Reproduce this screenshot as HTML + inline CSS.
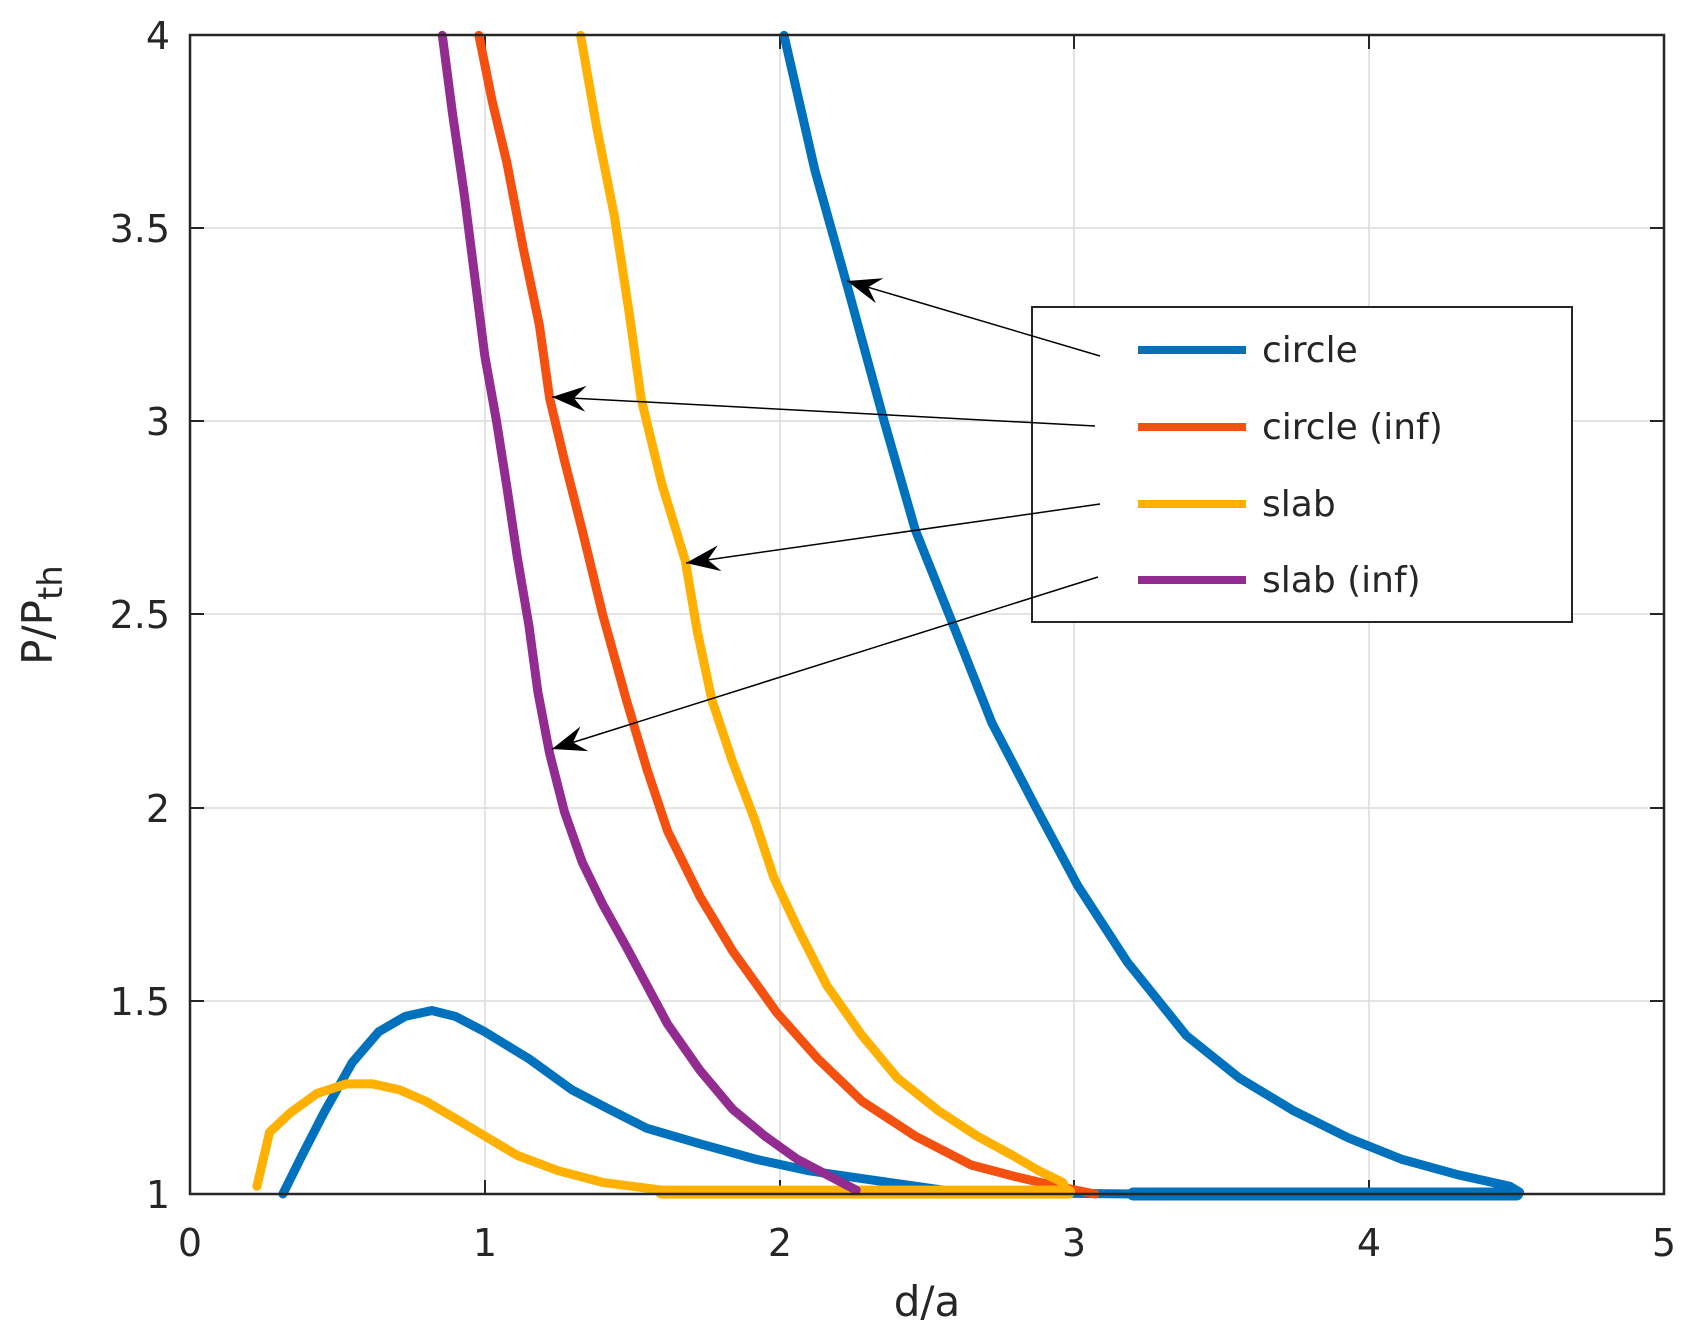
<!DOCTYPE html>
<html><head><meta charset="utf-8"><style>
html,body{margin:0;padding:0;background:#fff}
svg{display:block}
text{font-family:"DejaVu Sans","Liberation Sans",sans-serif;fill:#262626}
</style></head><body>
<svg width="1691" height="1343" viewBox="0 0 1691 1343" xmlns="http://www.w3.org/2000/svg">
<rect width="1691" height="1343" fill="#fff"/>
<g stroke="#dcdcdc" stroke-width="1.5">
<line x1="485" y1="35" x2="485" y2="1194"/><line x1="780" y1="35" x2="780" y2="1194"/>
<line x1="1074" y1="35" x2="1074" y2="1194"/><line x1="1369" y1="35" x2="1369" y2="1194"/>
<line x1="190" y1="228" x2="1664" y2="228"/><line x1="190" y1="421" x2="1664" y2="421"/>
<line x1="190" y1="614" x2="1664" y2="614"/><line x1="190" y1="808" x2="1664" y2="808"/>
<line x1="190" y1="1001" x2="1664" y2="1001"/>
</g>
<g stroke="#262626" stroke-width="2">
<line x1="485" y1="1194" x2="485" y2="1180"/><line x1="780" y1="1194" x2="780" y2="1180"/><line x1="1074" y1="1194" x2="1074" y2="1180"/><line x1="1369" y1="1194" x2="1369" y2="1180"/>
<line x1="485" y1="35" x2="485" y2="49"/><line x1="780" y1="35" x2="780" y2="49"/><line x1="1074" y1="35" x2="1074" y2="49"/><line x1="1369" y1="35" x2="1369" y2="49"/>
<line x1="190" y1="228" x2="204" y2="228"/><line x1="190" y1="421" x2="204" y2="421"/><line x1="190" y1="614" x2="204" y2="614"/><line x1="190" y1="808" x2="204" y2="808"/><line x1="190" y1="1001" x2="204" y2="1001"/>
<line x1="1664" y1="228" x2="1650" y2="228"/><line x1="1664" y1="421" x2="1650" y2="421"/><line x1="1664" y1="614" x2="1650" y2="614"/><line x1="1664" y1="808" x2="1650" y2="808"/><line x1="1664" y1="1001" x2="1650" y2="1001"/>
</g>
<g transform="translate(190,1580.2) scale(294.8,-386.2)" fill="none" stroke-linejoin="round" stroke-linecap="round">
<polyline vector-effect="non-scaling-stroke" stroke="#0072BD" stroke-width="9" points="2.015,4 2.12,3.65 2.23,3.35 2.355,3.0 2.46,2.72 2.575,2.5 2.72,2.22 2.87,2.0 3.01,1.8 3.18,1.6 3.38,1.41 3.56,1.3 3.745,1.215 3.93,1.145 4.11,1.09 4.3,1.05 4.477,1.02 4.51,1.005 4.5,1.0 3.2,1.0 2.6,1.005 2.28,1.04 2.1,1.06 1.92,1.09 1.73,1.13 1.55,1.17 1.42,1.22 1.295,1.27 1.15,1.35 1.0,1.42 0.9,1.46 0.82,1.475 0.73,1.46 0.64,1.42 0.55,1.34 0.454,1.21 0.38,1.1 0.315,1.0"/>
<polyline vector-effect="non-scaling-stroke" stroke="#0072BD" stroke-width="13" points="3.2,1.0 4.5,1.0"/>
<polyline vector-effect="non-scaling-stroke" stroke="#F4500F" stroke-width="9" points="0.98,4 1.025,3.83 1.075,3.67 1.13,3.45 1.185,3.25 1.22,3.06 1.27,2.9 1.33,2.72 1.4,2.5 1.48,2.28 1.55,2.1 1.62,1.94 1.73,1.77 1.84,1.63 1.99,1.47 2.13,1.35 2.28,1.24 2.46,1.15 2.65,1.075 2.8,1.045 2.94,1.02 3.07,1.0"/>
<polyline vector-effect="non-scaling-stroke" stroke="#FFB000" stroke-width="9" points="1.325,4 1.38,3.76 1.44,3.53 1.49,3.28 1.53,3.06 1.6,2.84 1.68,2.64 1.72,2.46 1.77,2.28 1.84,2.12 1.915,1.97 1.98,1.82 2.06,1.69 2.16,1.54 2.28,1.41 2.4,1.3 2.54,1.215 2.67,1.15 2.79,1.1 2.88,1.06 2.96,1.03 2.98,1.0 2.2,1.0 1.6,1.01 1.4,1.03 1.25,1.06 1.11,1.1 1.0,1.15 0.89,1.2 0.8,1.24 0.71,1.27 0.62,1.285 0.53,1.285 0.43,1.26 0.34,1.21 0.27,1.16 0.227,1.02"/>
<polyline vector-effect="non-scaling-stroke" stroke="#FFB000" stroke-width="13" points="1.6,1.005 2.98,1.005"/>
<polyline vector-effect="non-scaling-stroke" stroke="#932C91" stroke-width="9" points="0.856,4 0.89,3.8 0.93,3.59 0.965,3.38 1.0,3.17 1.04,3.0 1.075,2.83 1.11,2.65 1.15,2.47 1.18,2.3 1.22,2.14 1.27,1.99 1.33,1.86 1.4,1.75 1.48,1.64 1.55,1.54 1.62,1.44 1.73,1.32 1.84,1.22 1.95,1.15 2.06,1.09 2.16,1.05 2.26,1.01"/>
</g>
<rect x="190" y="35" width="1474" height="1159" fill="none" stroke="#262626" stroke-width="2.5"/>
<rect x="1032" y="307" width="540" height="315" fill="#fff" stroke="#262626" stroke-width="2"/>
<g stroke-width="8">
<line x1="1138" y1="350" x2="1246" y2="350" stroke="#0072BD"/>
<line x1="1138" y1="427" x2="1246" y2="427" stroke="#F4500F"/>
<line x1="1138" y1="504" x2="1246" y2="504" stroke="#FFB000"/>
<line x1="1138" y1="580" x2="1246" y2="580" stroke="#932C91"/>
</g>
<g font-size="36">
<text x="1262" y="362">circle</text>
<text x="1262" y="439">circle (inf)</text>
<text x="1262" y="516">slab</text>
<text x="1262" y="592">slab (inf)</text>
</g>
<defs><marker id="ah" markerWidth="34" markerHeight="26" refX="34" refY="13" orient="auto" markerUnits="userSpaceOnUse" viewBox="0 0 34 26"><path d="M34,13 L0,0 L12,13 L0,26 Z" fill="#000"/></marker></defs>
<g stroke="#000" stroke-width="1.5" fill="none">
<line x1="1100" y1="356" x2="847" y2="281" marker-end="url(#ah)"/>
<line x1="1095" y1="426" x2="552" y2="397" marker-end="url(#ah)"/>
<line x1="1100" y1="504" x2="686" y2="563" marker-end="url(#ah)"/>
<line x1="1098" y1="577" x2="552" y2="749" marker-end="url(#ah)"/>
</g>
<g font-size="38" text-anchor="end">
<text x="170" y="49">4</text><text x="170" y="242">3.5</text><text x="170" y="435">3</text>
<text x="170" y="628">2.5</text><text x="170" y="822">2</text><text x="170" y="1015">1.5</text><text x="170" y="1208">1</text>
</g>
<g font-size="38" text-anchor="middle">
<text x="190" y="1256">0</text><text x="485" y="1256">1</text><text x="780" y="1256">2</text>
<text x="1074" y="1256">3</text><text x="1369" y="1256">4</text><text x="1664" y="1256">5</text>
<text x="927" y="1316" font-size="42">d/a</text>
</g>
<text transform="translate(52,615) rotate(-90)" font-size="42" text-anchor="middle">P/P<tspan font-size="34" dy="10">th</tspan></text>
</svg>
</body></html>
